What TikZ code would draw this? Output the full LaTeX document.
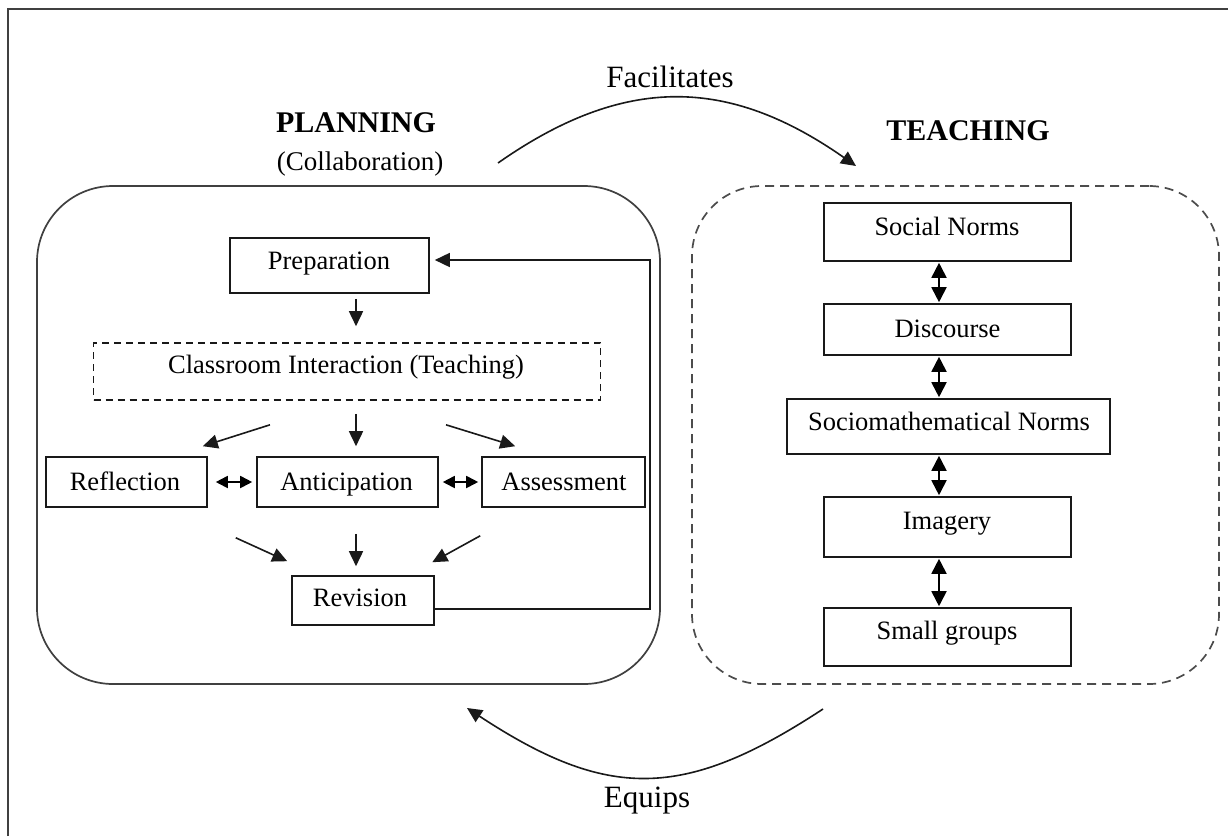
\documentclass[tikz,border=0pt]{standalone}
\usepackage{fontspec}
\setmainfont{Liberation Serif}
\usetikzlibrary{arrows.meta,calc}
\begin{document}
\begin{tikzpicture}[x=1pt,y=-1pt,
  frame/.style={draw=black!75,line width=2pt},
  region/.style={draw=black!75,line width=1.7pt,rounded corners=76pt,inner sep=0pt,rectangle},
  dregion/.style={draw=black!70,line width=1.7pt,rounded corners=70pt,dash pattern=on 9pt off 6pt,inner sep=0pt,rectangle},
  rbox/.style={draw=black!90,line width=1.6pt,inner sep=0pt,rectangle},
  dbox/.style={rbox,dash pattern=on 7pt off 5pt},
  lbl/.style={anchor=base,inner sep=0pt,font=\fontsize{26.5}{30}\selectfont},
  ttl/.style={anchor=base,inner sep=0pt,font=\fontsize{30}{36}\selectfont\bfseries},
  big/.style={anchor=base,inner sep=0pt,font=\fontsize{31}{36}\selectfont},
  arr/.style={draw=black!90,line width=1.6pt,-{Triangle[length=15pt,width=14pt]}},
  harr/.style={draw=black,line width=1.8pt,{Triangle[length=12pt,width=12pt]}-{Triangle[length=12pt,width=12pt]}},
  varr/.style={draw=black,line width=1.8pt,{Triangle[length=15pt,width=15pt]}-{Triangle[length=15pt,width=15pt]}},
]
\useasboundingbox (0,0) rectangle (1228,836);
\fill[white] (0,0) rectangle (1228,836);
\draw[frame] (8,836) -- (8,9) -- (1228,9);

% regions
\node[region,minimum width=623pt,minimum height=498pt] (plan) at (348.5,435) {};
\node[dregion,minimum width=527pt,minimum height=498pt] (teach) at (955.5,435) {};

% titles
\node[ttl] (planT) at (356,132) {PLANNING};
\node[lbl,font=\fontsize{27}{30}\selectfont] (collab) at (360,170) {(Collaboration)};
\node[ttl] (teachT) at (968,140) {TEACHING};
\node[big] (facil) at (670,87) {Facilitates};
\node[big] (equips) at (647,807) {Equips};

% planning boxes
\node[rbox,minimum width=199pt,minimum height=55pt] (prep) at (329.5,265.5) {};
\node[dbox,minimum width=507pt,minimum height=57pt] (class) at (347,371.5) {};
\node[rbox,minimum width=161pt,minimum height=50pt] (refl) at (126.5,482) {};
\node[rbox,minimum width=181pt,minimum height=50pt] (antic) at (347.5,482) {};
\node[rbox,minimum width=163pt,minimum height=50pt] (assess) at (563.5,482) {};
\node[rbox,minimum width=142pt,minimum height=49pt] (rev) at (363,600.5) {};

\node[lbl] (prepT) at (329,269) {Preparation};
\node[lbl] (classT) at (346,373) {Classroom Interaction (Teaching)};
\node[lbl] (reflT) at (125,490) {Reflection};
\node[lbl] (anticT) at (346.5,490) {Anticipation};
\node[lbl] (assessT) at (564,490) {Assessment};
\node[lbl] (revT) at (360,606) {Revision};

% teaching boxes
\node[rbox,minimum width=247pt,minimum height=58pt] (social) at (947.5,232) {};
\node[rbox,minimum width=247pt,minimum height=51pt] (disc) at (947.5,329.5) {};
\node[rbox,minimum width=323pt,minimum height=55pt] (socio) at (948.5,426.5) {};
\node[rbox,minimum width=247pt,minimum height=60pt] (imag) at (947.5,527) {};
\node[rbox,minimum width=247pt,minimum height=58pt] (small) at (947.5,637) {};

\node[lbl] (socialT) at (947,235) {Social Norms};
\node[lbl] (discT) at (947.5,337) {Discourse};
\node[lbl] (socioT) at (949,430) {Sociomathematical Norms};
\node[lbl] (imagT) at (947,529) {Imagery};
\node[lbl] (smallT) at (947,639) {Small groups};

% planning arrows
\draw[arr] ($(prep.south)+(26.5,5)$) -- ($(class.north)+(9,-16)$);
\draw[arr] ($(class.south)+(-77,24)$) -- ($(refl.north east)+(-5,-10)$);
\draw[arr] ($(class.south)+(9,13)$) -- ($(antic.north)+(8.5,-10)$);
\draw[arr] ($(class.south)+(99,24)$) -- ($(assess.north west)+(34,-10)$);
\draw[harr,shorten <=8pt,shorten >=4pt] (refl.east) -- (antic.west);
\draw[harr,shorten <=4pt,shorten >=3pt] (antic.east) -- (assess.west);
\draw[arr] ($(refl.south east)+(28,30)$) -- ($(rev.north west)+(-4,-14)$);
\draw[arr] ($(antic.south)+(8.5,26)$) -- ($(rev.north)+(-7,-9)$);
\draw[arr] ($(assess.south west)+(-1,28)$) -- ($(rev.north east)+(-2.5,-13)$);

% feedback loop
\coordinate (fbbot) at (650,609);
\coordinate (fbtop) at (650,260);
\draw[arr] ($(rev.east)+(0,8.5)$) -- (fbbot) -- (fbtop) -- ($(prep.east)+(5,-5.5)$);

% teaching arrows
\draw[varr] ($(social.south)+(-8.5,1)$) -- ($(disc.north)+(-8.5,-1)$);
\draw[varr] ($(disc.south)+(-8.5,1)$) -- ($(socio.north)+(-9.5,-1)$);
\draw[varr] ($(socio.south)+(-9.5,1)$) -- ($(imag.north)+(-8.5,-1)$);
\draw[varr] ($(imag.south)+(-8.5,1)$) -- ($(small.north)+(-8.5,-1)$);

% curved arrows
\coordinate (fs) at (498,163);
\coordinate (fe) at (856,166);
\draw[arr] (fs) .. controls (625,74) and (729,77) .. (fe);
\coordinate (es) at (823,709);
\coordinate (ee) at (467,708);
\draw[arr] (es) .. controls (683,801) and (607,800) .. (ee);
\end{tikzpicture}
\end{document}
